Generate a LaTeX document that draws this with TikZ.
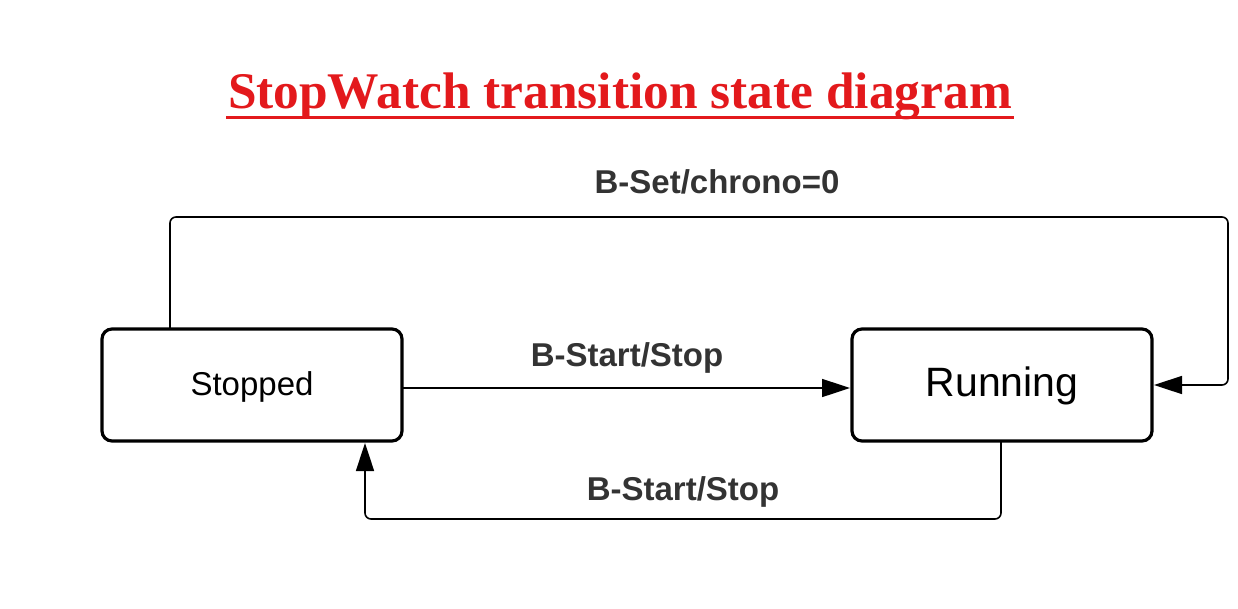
\documentclass[tikz,border=0pt]{standalone}
\usepackage{fontspec}
\setmainfont{Liberation Sans}
\newfontfamily\titlefont{Liberation Serif}
\usetikzlibrary{arrows.meta}
\definecolor{titlered}{HTML}{E3191C}
\definecolor{labelgray}{HTML}{333333}
\begin{document}
\begin{tikzpicture}[x=1pt,y=-1pt,
  state/.style={draw=black,line width=3.2pt,rounded corners=10pt,minimum width=300pt,minimum height=112pt,inner sep=0pt,outer sep=0pt,fill=white},
  conn/.style={draw=black,line width=1.6pt,rounded corners=6pt,-{Triangle[length=28pt,width=18pt]}},
  lbl/.style={font=\fontsize{33}{36}\selectfont\bfseries,text=labelgray,anchor=base,inner sep=0pt}]
\useasboundingbox (0,0) rectangle (1238,608);
% title
\node[font=\titlefont\fontsize{47}{50}\selectfont\bfseries,text=titlered,anchor=base,inner sep=0pt] (title) at (620,108) {\resizebox{784pt}{!}{StopWatch transition state diagram}};
\coordinate (ul) at (226,117);
\coordinate (ur) at (1014,117);
\draw[titlered,line width=3pt] (ul) -- (ur);
% states
\node[state] (S) at (252,385) {};
\node[font=\fontsize{33}{36}\selectfont,anchor=base,inner sep=0pt] (St) at (252,395) {Stopped};
\node[state] (R) at (1002,385) {};
\node[font=\fontsize{41}{44}\selectfont,anchor=base,inner sep=0pt] (Rt) at (1002,396) {Running};
% corners
\coordinate (tr) at (1228,217);
\coordinate (bl) at (365,519);
% connectors
\draw[conn] ([xshift=-82pt]S.north) |- (tr) |- ([xshift=2pt]R.east);
\draw[conn] ([yshift=-3pt]S.east) -- ([xshift=-2pt,yshift=-3pt]R.west);
\draw[conn] ([xshift=-1pt]R.south) |- (bl) -- ([xshift=113pt,yshift=-2pt]S.south);
% labels
\node[lbl] (l1) at (717,193) {B-Set/chrono=0};
\node[lbl] (l2) at (627,366) {B-Start/Stop};
\node[lbl] (l3) at (683,500) {B-Start/Stop};
\end{tikzpicture}
\end{document}
